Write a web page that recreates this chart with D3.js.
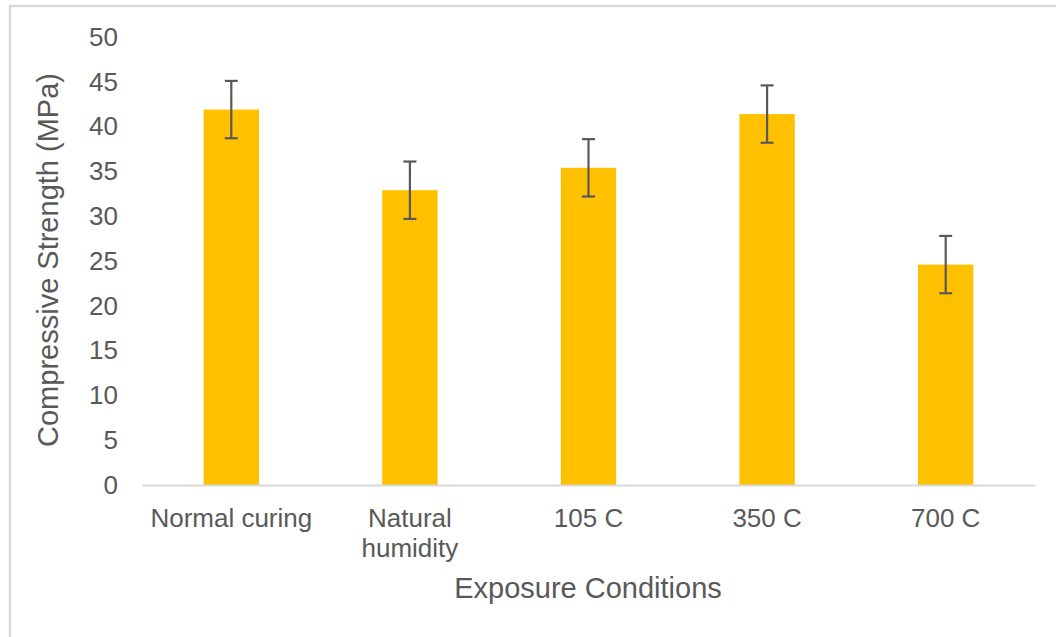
<!DOCTYPE html>
<html><head><meta charset="utf-8">
<script src="https://cdn.jsdelivr.net/npm/d3@7"></script>
<style>body{margin:0;background:#fff}svg{display:block}text{font-family:"Liberation Sans",Arial,sans-serif;fill:#595959}</style>
</head><body>
<svg id="c" width="1056" height="637"></svg>
<script>
const categories = ["Normal curing", "Natural\nhumidity", "105 C", "350 C", "700 C"];
const values = [41.9, 32.9, 35.4, 41.4, 24.6];
const errors = [3.2, 3.2, 3.2, 3.2, 3.2];
const yTicks = [0, 5, 10, 15, 20, 25, 30, 35, 40, 45, 50];

const svg = d3.select("#c");
// outer frame (only top/left visible)
svg.append("rect").attr("x", 10).attr("y", 6).attr("width", 1100).attr("height", 700)
  .attr("fill", "none").attr("stroke", "#d9d9d9").attr("stroke-width", 2.5);

const pL = 142, pR = 1035, pT = 37, pB = 485;
const x = d3.scaleBand().domain(categories).range([pL, pR]).paddingInner(0.69).paddingOuter(0.345);
const y = d3.scaleLinear().domain([0, 50]).range([pB, pT]);

// y axis labels
const yAxis = svg.append("g").attr("transform", `translate(${pL},0)`)
  .call(d3.axisLeft(y).tickValues(yTicks).tickSize(0).tickPadding(24));
yAxis.select(".domain").remove();
yAxis.selectAll("text").style("font-size", "26px").attr("fill", "#595959")
  .style("font-family", '"Liberation Sans",Arial,sans-serif');

// bars
svg.selectAll("rect.bar").data(values).enter().append("rect").attr("class", "bar")
  .attr("x", (d, i) => x(categories[i])).attr("width", x.bandwidth())
  .attr("y", d => y(d)).attr("height", d => y(0) - y(d)).attr("fill", "#ffc000");

// x axis
const xAxis = svg.append("g").attr("transform", `translate(0,${pB})`)
  .call(d3.axisBottom(x).tickSize(0).tickPadding(0).tickFormat(""));
xAxis.select(".domain").attr("stroke", "#d9d9d9").attr("stroke-width", 2);
xAxis.selectAll(".tick").each(function(d) {
  const lines = d.split("\n");
  const t = d3.select(this).append("text").attr("text-anchor", "middle")
    .style("font-size", "26px").attr("fill", "#595959");
  lines.forEach((l, k) => t.append("tspan").attr("x", 0).attr("y", 42 + k * 30).text(l));
});

// error bars
const eg = svg.append("g").attr("stroke", "#595959").attr("stroke-width", 2.2).attr("fill", "none");
values.forEach((v, i) => {
  const cx = x(categories[i]) + x.bandwidth() / 2;
  eg.append("line").attr("x1", cx).attr("x2", cx).attr("y1", y(v + errors[i])).attr("y2", y(v - errors[i]));
  eg.append("line").attr("x1", cx - 6.5).attr("x2", cx + 6.5).attr("y1", y(v + errors[i])).attr("y2", y(v + errors[i]));
  eg.append("line").attr("x1", cx - 6.5).attr("x2", cx + 6.5).attr("y1", y(v - errors[i])).attr("y2", y(v - errors[i]));
});

// titles
svg.append("text").attr("x", 588).attr("y", 598).attr("text-anchor", "middle")
  .style("font-size", "29px").text("Exposure Conditions");
svg.append("text").attr("transform", "translate(58,260) rotate(-90)").attr("text-anchor", "middle")
  .style("font-size", "29px").text("Compressive Strength (MPa)");
</script>
</body></html>
